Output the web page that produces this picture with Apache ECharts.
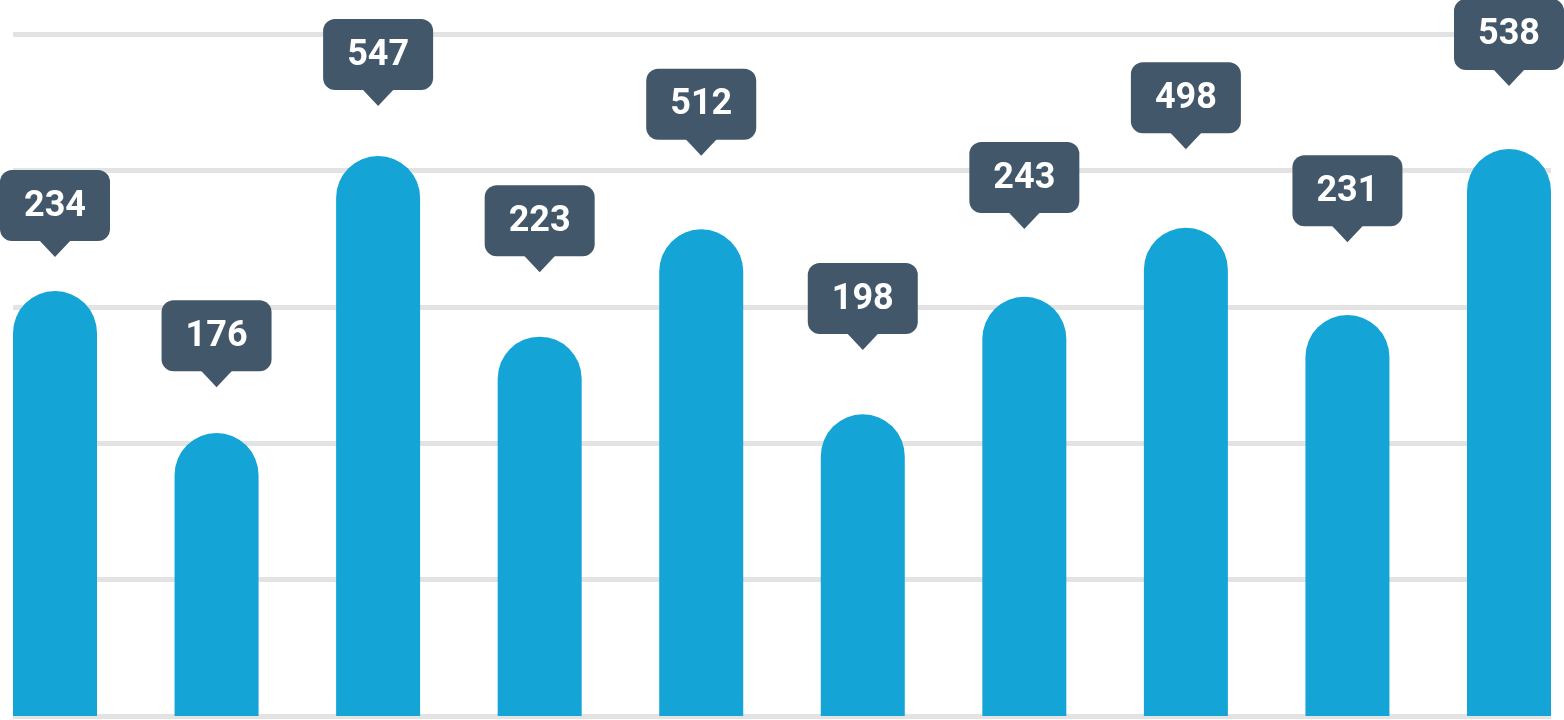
<!DOCTYPE html>
<html>
<head>
<meta charset="utf-8">
<script src="https://cdn.jsdelivr.net/npm/echarts@6/dist/echarts.min.js"></script>
<style>
html,body{margin:0;padding:0;background:#fff;}
#main{width:1564px;height:720px;}
</style>
</head>
<body>
<div id="main"></div>
<script>
// Displayed callout values
const labelValues = [234, 176, 547, 223, 512, 198, 243, 498, 231, 538];
// Bar heights (axis units, gridlines every 100)
const barHeights = [311.6, 207.5, 410.6, 278.1, 356.8, 221.2, 307.4, 358.0, 294.0, 415.7];
// Level of each callout's pointer tip (axis units)
const calloutLevels = [336.5, 241.0, 447.2, 325.3, 410.8, 268.3, 357.0, 415.5, 347.3, 461.9];
// Value axis ticks
const yTicks = [0, 100, 200, 300, 400, 500];

const barData = barHeights.map((v, i) => [i, v]);
const calloutData = calloutLevels.map((v, i) => [i, v, labelValues[i]]);

const chart = echarts.init(document.getElementById('main'), null, {renderer: 'canvas'});
chart.setOption({
  animation: false,
  backgroundColor: '#ffffff',
  grid: {left: 13, right: 13, top: 34, bottom: 4, containLabel: false},
  xAxis: {
    type: 'value',
    min: -0.26, max: labelValues.length - 1 + 0.26,
    show: false, splitLine: {show: false}
  },
  yAxis: {
    type: 'value',
    min: yTicks[0], max: yTicks[yTicks.length - 1], interval: yTicks[1] - yTicks[0],
    axisLine: {show: false}, axisTick: {show: false}, axisLabel: {show: false},
    splitLine: {show: true, lineStyle: {color: '#e3e3e3', width: 5}}
  },
  series: [
    {
      type: 'bar',
      data: barData,
      barWidth: 84,
      itemStyle: {color: '#14a4d6', borderRadius: [42, 42, 0, 0]},
      z: 2
    },
    {
      type: 'custom',
      data: calloutData,
      clip: false,
      z: 5,
      renderItem: function (params, api) {
        const p = api.coord([api.value(0), api.value(1)]);
        const w = 110, h = 71, ph = 16, pw = 16;
        const top = p[1] - ph - h;
        return {
          type: 'group',
          children: [
            {type: 'rect', shape: {x: p[0] - w / 2, y: top, width: w, height: h, r: 12},
             style: {fill: '#43576b'}},
            {type: 'polygon', shape: {points: [[p[0] - pw, p[1] - ph - 1], [p[0] + pw, p[1] - ph - 1], [p[0], p[1]]]},
             style: {fill: '#43576b'}},
            {type: 'text', x: p[0], y: top + h / 2 + 1,
             style: {text: String(api.value(2)), fill: '#ffffff', font: 'bold 36px Roboto',
                     align: 'center', verticalAlign: 'middle'}}
          ]
        };
      }
    }
  ]
});
</script>
</body>
</html>
